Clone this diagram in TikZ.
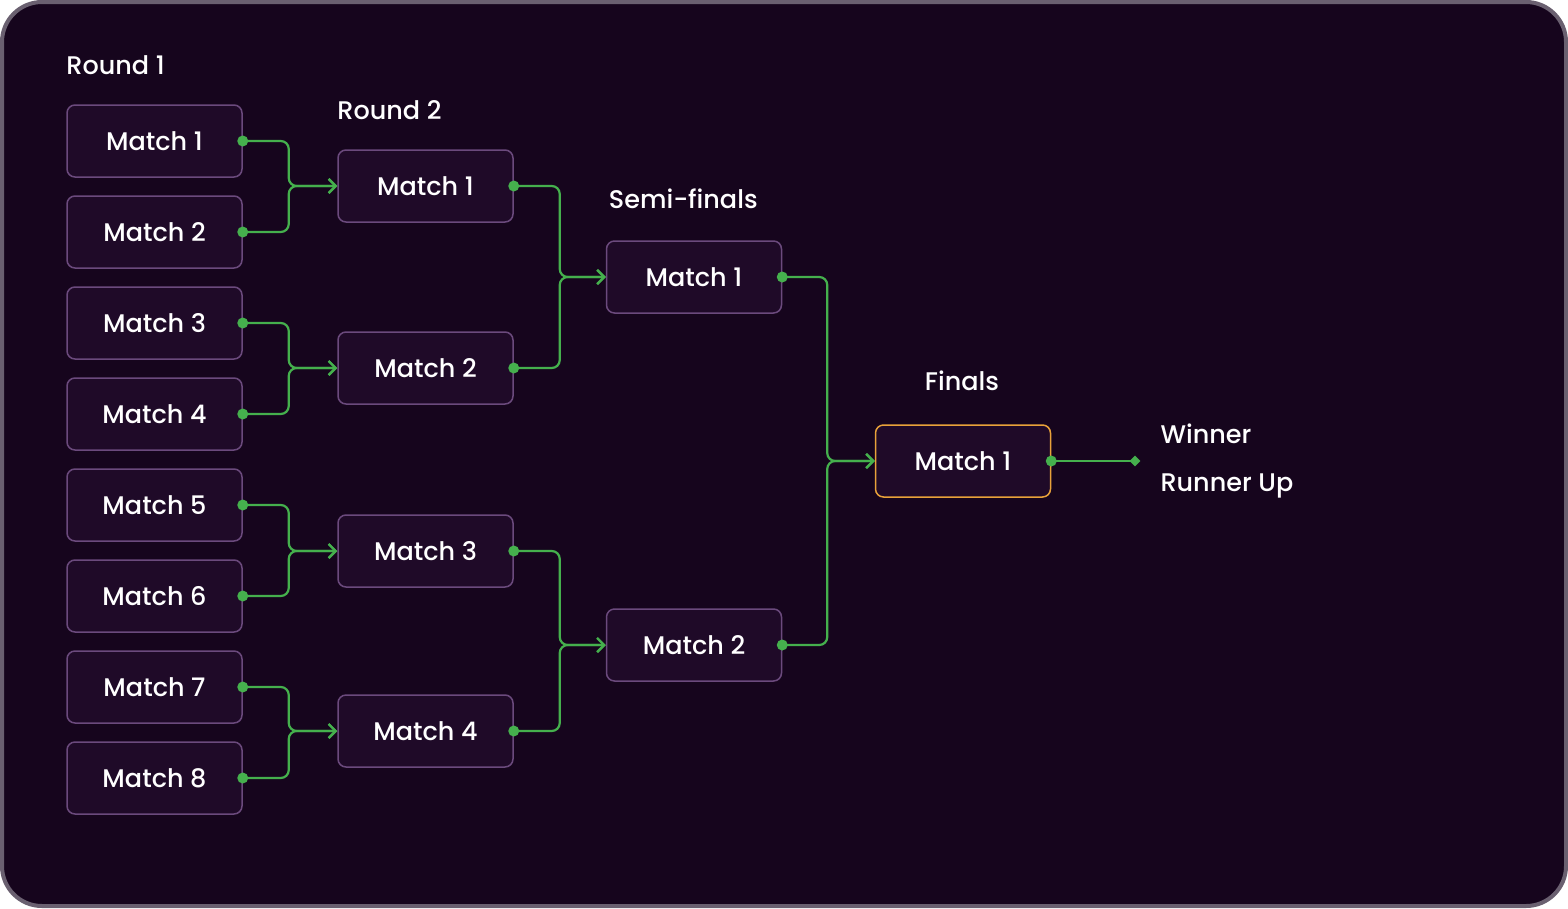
\documentclass[tikz,border=0pt]{standalone}
\usepackage{fontspec}
\setmainfont{Poppins}[UprightFont={* Medium}]
\usetikzlibrary{positioning, arrows.meta, shapes.geometric}
\definecolor{pagebg}{HTML}{16051D}
\definecolor{framegray}{HTML}{6A6070}
\definecolor{boxfill}{HTML}{1F0A28}
\definecolor{boxline}{HTML}{6B4A7D}
\definecolor{linkgreen}{HTML}{45B04D}
\definecolor{finalorange}{HTML}{E8A23A}
\tikzset{
        x=1pt, y=-1pt, % one unit is one pixel of the reference
        match/.style={
		draw=boxline,
		fill=boxfill,
		line width=1.5pt,
		rounded corners=8pt,
		minimum width=175pt,
		minimum height=72pt,
		text=white,
		font=\fontsize{25.5}{30}\selectfont,
	  },
        heading/.style={
		anchor=west,
		text=white,
		font=\fontsize{25.5}{30}\selectfont,
	  },
        link/.style={
		draw=linkgreen,
		line width=2.2pt,
		rounded corners=8pt,
		-{Straight Barb[length=7pt,width=14pt,line width=2.2pt]},
	  },
    }
\begin{document}
\begin{tikzpicture}
    \fill[white] (0,0) rectangle (1568,908);
    \draw[framegray, line width=4pt, fill=pagebg, rounded corners=40pt] (2,2) rectangle (1566,906);
    % columns
    \foreach \i in {1,...,8}
        \node [match] (r1m\i) at (154.5, {141+91*(\i-1)}) {Match \i};
    \node [match] (r2m1) at (425.5,186) {Match 1};
    \node [match] (r2m2) at (425.5,368) {Match 2};
    \node [match] (r2m3) at (425.5,551) {Match 3};
    \node [match] (r2m4) at (425.5,731) {Match 4};
    \node [match] (sfm1) at (694,277) {Match 1};
    \node [match] (sfm2) at (694,645) {Match 2};
    \node [match, draw=finalorange] (fm1) at (963,461) {Match 1};
    % headings
    \node [heading, above=26pt of r1m1.north west, anchor=south west, inner xsep=0pt] (h1) {Round 1};
    \node [heading, above=26pt of r2m1.north west, anchor=south west, inner xsep=0pt] (h2) {Round 2};
    \node [heading, above=28pt of sfm1.north west, anchor=south west, inner xsep=3pt] (h3) {Semi-finals};
    \node [heading, above=30pt of fm1.north west, anchor=south west, inner xsep=50pt] (h4) {Finals};
    \coordinate (end) at (fm1.east -| 1135,0);
    \node [heading] (win) at (1157,434) {Winner};
    \node [heading] (run) at (1157,486) {Runner Up};
    % links
    \foreach \a/\b in {r1m1/r2m1, r1m2/r2m1, r1m3/r2m2, r1m4/r2m2,
                       r1m5/r2m3, r1m6/r2m3, r1m7/r2m4, r1m8/r2m4}
        \draw [link] (\a.east) -- ++(46,0) |- (\b.west);
    \foreach \a/\b in {r2m1/sfm1, r2m2/sfm1, r2m3/sfm2, r2m4/sfm2}
        \draw [link] (\a.east) -- ++(46,0) |- (\b.west);
    \foreach \a/\b in {sfm1/fm1, sfm2/fm1}
        \draw [link] (\a.east) -- ++(45,0) |- (\b.west);
    \draw [link, -] (fm1.east) -- (end);
    \node [diamond, fill=linkgreen, inner sep=0pt, minimum size=11pt] at (end) {};
    \foreach \n in {r1m1,r1m2,r1m3,r1m4,r1m5,r1m6,r1m7,r1m8,r2m1,r2m2,r2m3,r2m4,sfm1,sfm2,fm1}
        \fill [linkgreen] (\n.east) circle (5.5pt);
\end{tikzpicture}
\end{document}
